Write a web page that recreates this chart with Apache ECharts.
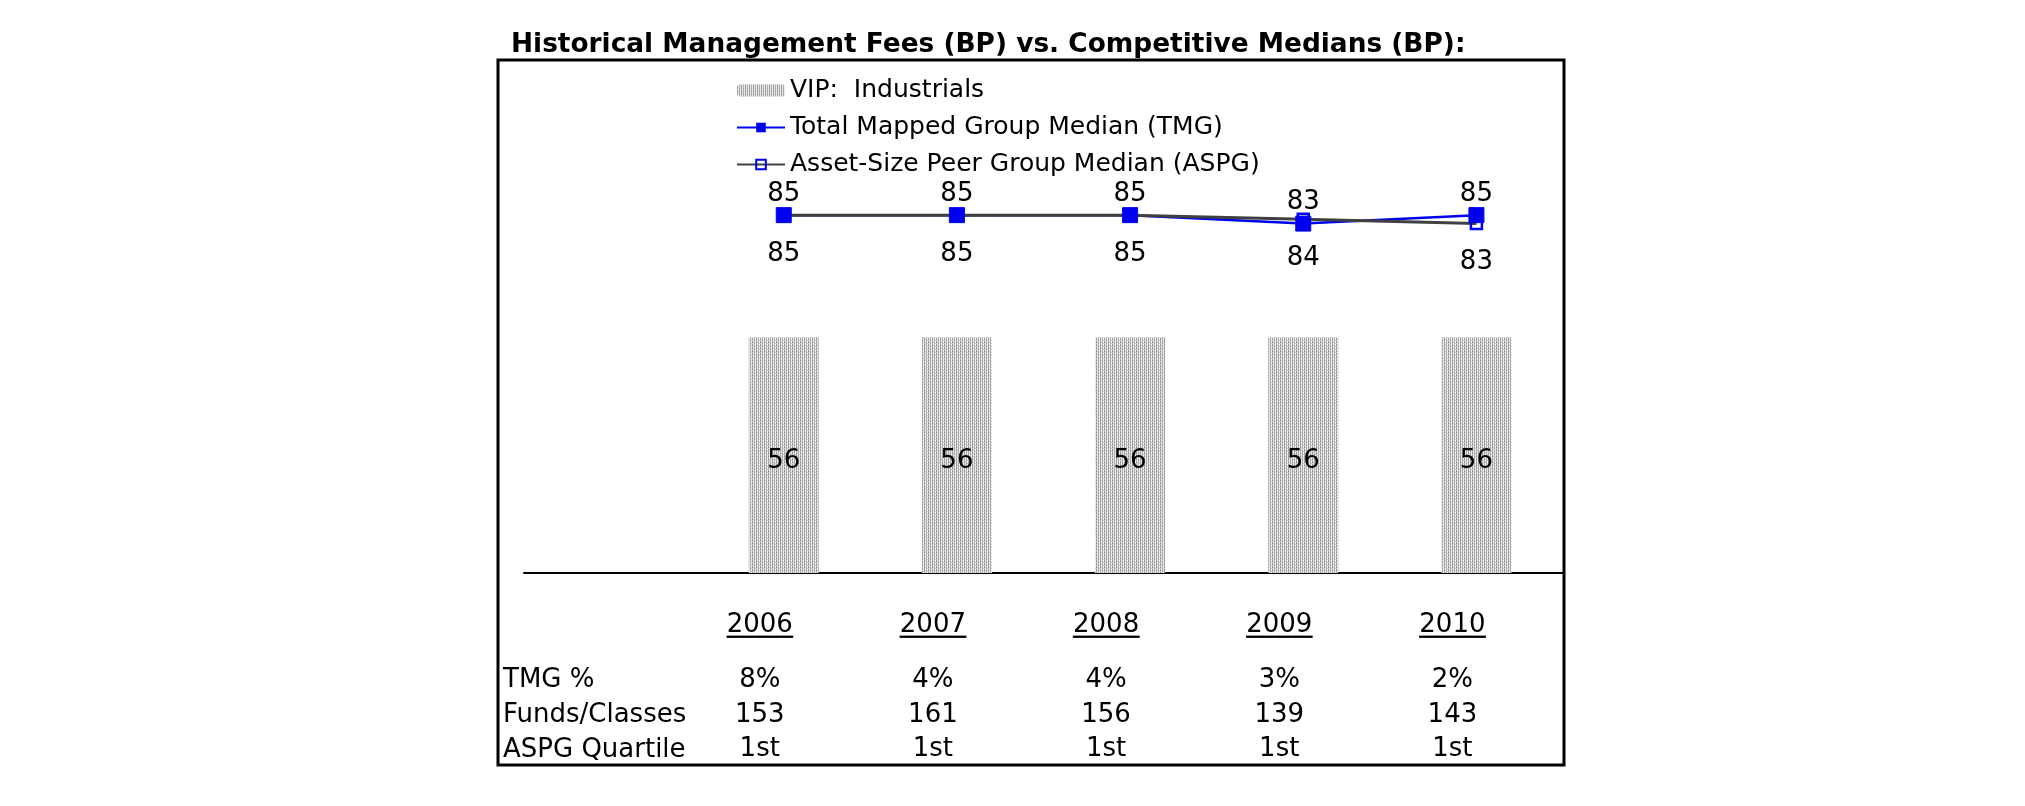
<!DOCTYPE html>
<html>
<head>
<meta charset="utf-8">
<script src="https://cdn.jsdelivr.net/npm/echarts@6/dist/echarts.min.js"></script>
<style>
html,body{margin:0;padding:0;background:#fff;}
#chart{width:2025px;height:806px;}
</style>
</head>
<body>
<div id="chart"></div>
<script>
var years = ['2006', '2007', '2008', '2009', '2010'];
var vipFees = [56, 56, 56, 56, 56];
var tmgMedian = [85, 85, 85, 83, 85];
var aspgMedian = [85, 85, 85, 84, 83];
var tmgPct = ['8%', '4%', '4%', '3%', '2%'];
var fundsClasses = ['153', '161', '156', '139', '143'];
var aspgQuartile = ['1st', '1st', '1st', '1st', '1st'];
var rowLabels = ['TMG %', 'Funds/Classes', 'ASPG Quartile'];

var FONT = 'DejaVu Sans';

function makePattern() {
  var rows = [
    ['#8a8a8a', '#dedede', '#acacac', '#ececec'],
    ['#bcbcbc', '#efefef', '#9a9a9a', '#dcdcdc'],
    ['#a0a0a0', '#e2e2e2', '#bebebe', '#f2f2f2']
  ];
  var c = document.createElement('canvas');
  c.width = 4; c.height = 3;
  var g = c.getContext('2d');
  for (var y = 0; y < 3; y++) for (var x = 0; x < 4; x++) { g.fillStyle = rows[y][x]; g.fillRect(x, y, 1, 1); }
  return c;
}
var pattern = { image: makePattern(), repeat: 'repeat' };

function pad(arr) { return [''].concat(arr); }
function padNum(arr) { return [null].concat(arr); }

var labelStyle = { color: '#000', fontSize: 26, fontFamily: FONT, padding: [0, 48, 0, 0] };

function tableAxis(data, offset) {
  return {
    type: 'category', gridIndex: 0, position: 'bottom', offset: offset,
    data: pad(data),
    axisLine: { show: false }, axisTick: { show: false },
    axisLabel: Object.assign({ margin: 41, interval: 0 }, labelStyle)
  };
}

var chart = echarts.init(document.getElementById('chart'));
chart.setOption({
  backgroundColor: '#fff',
  animation: false,
  title: {
    text: 'Historical Management Fees (BP) vs. Competitive Medians (BP):',
    left: 506, top: 27,
    textStyle: { fontSize: 26.4, fontWeight: 'bold', fontFamily: FONT, color: '#000' }
  },
  legend: {
    orient: 'vertical', left: 736, top: 78, padding: 0,
    itemWidth: 48, itemHeight: 12, itemGap: 12,
    textStyle: { fontSize: 25, fontFamily: FONT, color: '#000' },
    data: ['VIP:  Industrials', 'Total Mapped Group Median (TMG)', 'Asset-Size Peer Group Median (ASPG)']
  },
  grid: { left: 524, right: 462, top: 152, bottom: 233 },
  xAxis: [
    {
      type: 'category', data: pad(years),
      axisLine: { lineStyle: { color: '#000', width: 2 } },
      axisTick: { show: false },
      axisLabel: {
        margin: 40, interval: 0, padding: [0, 48, 0, 0],
        formatter: function (v) { return v ? '{y|' + v + '}\n{u|' + '\u2500'.repeat(v.length) + '}' : ''; },
        rich: {
          y: { color: '#000', fontSize: 26, fontFamily: FONT, lineHeight: 24 },
          u: { color: '#000', fontSize: 27.5, fontFamily: FONT, lineHeight: 4 }
        }
      }
    },
    tableAxis(tmgPct, 53),
    tableAxis(fundsClasses, 88),
    tableAxis(aspgQuartile, 122)
  ],
  yAxis: { type: 'value', min: 0, max: 100, show: false },
  series: [
    {
      name: 'VIP:  Industrials', type: 'bar', barWidth: 70,
      data: padNum(vipFees),
      itemStyle: { color: pattern },
      label: { show: true, position: 'inside', offset: [0, 6], color: '#000', fontSize: 26, fontFamily: FONT }
    },
    {
      name: 'Total Mapped Group Median (TMG)', type: 'line',
      data: padNum(tmgMedian),
      symbol: 'rect', symbolSize: [15, 15],
      lineStyle: { color: '#0000f0', width: 2.5 },
      itemStyle: { color: '#0000f0', borderColor: '#0000f0' },
      label: { show: true, position: 'top', distance: 0, color: '#000', fontSize: 26, fontFamily: FONT }
    },
    {
      name: 'Asset-Size Peer Group Median (ASPG)', type: 'line',
      data: padNum(aspgMedian),
      symbol: 'rect', symbolSize: 11,
      lineStyle: { color: '#404040', width: 3 },
      itemStyle: { color: 'rgba(255,255,255,0)', borderColor: '#0000f0', borderWidth: 2.5 },
      label: { show: true, position: 'bottom', distance: 19, color: '#000', fontSize: 26, fontFamily: FONT }
    }
  ],
  graphic: [
    { type: 'rect', shape: { x: 498, y: 60, width: 1066, height: 705 }, style: { fill: 'none', stroke: '#000', lineWidth: 3 }, z: -1 },
    { type: 'text', style: { text: rowLabels[0], x: 503, y: 680, font: '26px "DejaVu Sans"', fill: '#000', textVerticalAlign: 'middle' } },
    { type: 'text', style: { text: rowLabels[1], x: 503, y: 715, font: '26px "DejaVu Sans"', fill: '#000', textVerticalAlign: 'middle' } },
    { type: 'text', style: { text: rowLabels[2], x: 503, y: 750, font: '26px "DejaVu Sans"', fill: '#000', textVerticalAlign: 'middle' } }
  ]
});
</script>
</body>
</html>
